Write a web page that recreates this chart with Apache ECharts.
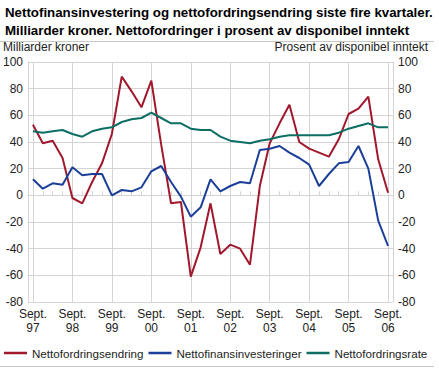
<!DOCTYPE html>
<html><head><meta charset="utf-8">
<script src="https://cdn.jsdelivr.net/npm/echarts@6/dist/echarts.min.js"></script>
<style>html,body{margin:0;padding:0;background:#fff}#c{width:439px;height:369px}</style>
</head><body><div id="c"></div>
<script>
// Quarters, Sept 1997 – Sept 2006
const categories = ['1997K3','1997K4','1998K1','1998K2','1998K3','1998K4','1999K1','1999K2','1999K3','1999K4',
  '2000K1','2000K2','2000K3','2000K4','2001K1','2001K2','2001K3','2001K4','2002K1','2002K2','2002K3','2002K4',
  '2003K1','2003K2','2003K3','2003K4','2004K1','2004K2','2004K3','2004K4','2005K1','2005K2','2005K3','2005K4',
  '2006K1','2006K2','2006K3'];
// Nettofordringsendring (Milliarder kroner)
const endring = [53,39,41,28,-2,-6,10,24,46,89,78,66,86,38,-6,-5,-61,-39,-6,-44,-37,-40,-52,7,39,54,68,40,35,32,29,42,61,65,74,27,2];
// Nettofinansinvesteringer (Milliarder kroner)
const finans = [12,5,9,8,21,15,16,16,0,4,3,6,18,22,10,-1,-16,-9,12,3,7,10,9,34,35,37,32,28,23,7,16,24,25,37,20,-19,-38];
// Nettofordringsrate (Prosent av disponibel inntekt)
const rate = [48,47,48,49,46,44,48,50,51,55,57,58,62,58,54,54,50,49,49,44,41,40,39,41,42,44,45,45,45,45,45,47,50,52,54,51,51];
const yearLabels = ['97','98','99','00','01','02','03','04','05','06'];
const seriesNames = ['Nettofordringsendring','Nettofinansinvesteringer','Nettofordringsrate'];
const titleLines = ['Nettofinansinvestering og nettofordringsendring siste fire kvartaler.',
  'Milliarder kroner. Nettofordringer i prosent av disponibel inntekt'];
const leftAxisName = 'Milliarder kroner';
const rightAxisName = 'Prosent av disponibel inntekt';

const FONT = 'Liberation Sans';
const gridColor = '#d4d4d4';
const txt = '#222';
const colors = ['#a0182c', '#1b3f98', '#0d6e64'];

const chart = echarts.init(document.getElementById('c'), null, {renderer: 'svg'});
chart.setOption({
  animation: false,
  textStyle: {fontFamily: FONT},
  title: {
    text: titleLines.join('\n'), left: 2, top: 1, padding: [2, 3, 2, 3],
    textStyle: {fontFamily: FONT, fontSize: 13.3, fontWeight: 'bold', lineHeight: 18, color: '#000'}
  },
  graphic: [
    {type: 'line', shape: {x1: 0, y1: 41.5, x2: 434, y2: 41.5}, style: {stroke: '#c8c8c8', lineWidth: 1}},
    {type: 'line', shape: {x1: 0, y1: 366.5, x2: 434, y2: 366.5}, style: {stroke: '#c8c8c8', lineWidth: 1}},
    {type: 'text', left: 3, top: 41, style: {text: leftAxisName, fontFamily: FONT, fontSize: 12, fill: txt}},
    {type: 'text', right: 11, top: 41, style: {text: rightAxisName, fontFamily: FONT, fontSize: 12, fill: txt}}
  ],
  legend: {
    left: 4, top: 347, width: 436, padding: 0, itemWidth: 23, itemHeight: 2.5, itemGap: 5, icon: 'rect',
    textStyle: {fontFamily: FONT, fontSize: 11.6, color: txt},
    data: seriesNames
  },
  grid: {left: 27, right: 46, top: 62, height: 240, containLabel: false},
  xAxis: [{
    type: 'category', data: categories, boundaryGap: true,
    axisLine: {show: false}, axisTick: {show: false},
    axisLabel: {
      interval: 3, margin: 5, fontSize: 12, color: txt, lineHeight: 14, fontFamily: FONT,
      formatter: (v, i) => (i % 4 === 0 ? 'Sept.\n' + yearLabels[i / 4] : '')
    },
    splitLine: {show: true, interval: 3, alignWithLabel: true, lineStyle: {color: gridColor, width: 1}}
  }, {
    type: 'category', data: categories, boundaryGap: true, position: 'bottom',
    axisLine: {show: true, onZero: true, onZeroAxisIndex: 0, lineStyle: {color: gridColor, width: 1}},
    axisTick: {show: true, inside: true, interval: 0, alignWithLabel: true, length: 4, lineStyle: {color: gridColor}},
    axisLabel: {show: false}, splitLine: {show: false}
  }],
  yAxis: [{
    type: 'value', min: -80, max: 100, interval: 20, position: 'left',
    axisLine: {show: true, lineStyle: {color: gridColor}}, axisTick: {show: false},
    axisLabel: {fontSize: 12, color: txt, margin: 5, fontFamily: FONT},
    splitLine: {show: true, lineStyle: {color: gridColor, width: 1}}
  }, {
    type: 'value', min: -80, max: 100, interval: 20, position: 'right',
    axisLine: {show: true, lineStyle: {color: gridColor}}, axisTick: {show: false},
    axisLabel: {fontSize: 12, color: txt, margin: 5, fontFamily: FONT},
    splitLine: {show: false}
  }],
  series: [
    {name: seriesNames[0], type: 'line', data: endring, xAxisIndex: 0, yAxisIndex: 0, symbol: 'none',
     lineStyle: {color: colors[0], width: 2}, itemStyle: {color: colors[0]}},
    {name: seriesNames[1], type: 'line', data: finans, xAxisIndex: 0, yAxisIndex: 0, symbol: 'none',
     lineStyle: {color: colors[1], width: 2}, itemStyle: {color: colors[1]}},
    {name: seriesNames[2], type: 'line', data: rate, xAxisIndex: 0, yAxisIndex: 1, symbol: 'none',
     lineStyle: {color: colors[2], width: 2}, itemStyle: {color: colors[2]}}
  ]
});
</script>
</body></html>
